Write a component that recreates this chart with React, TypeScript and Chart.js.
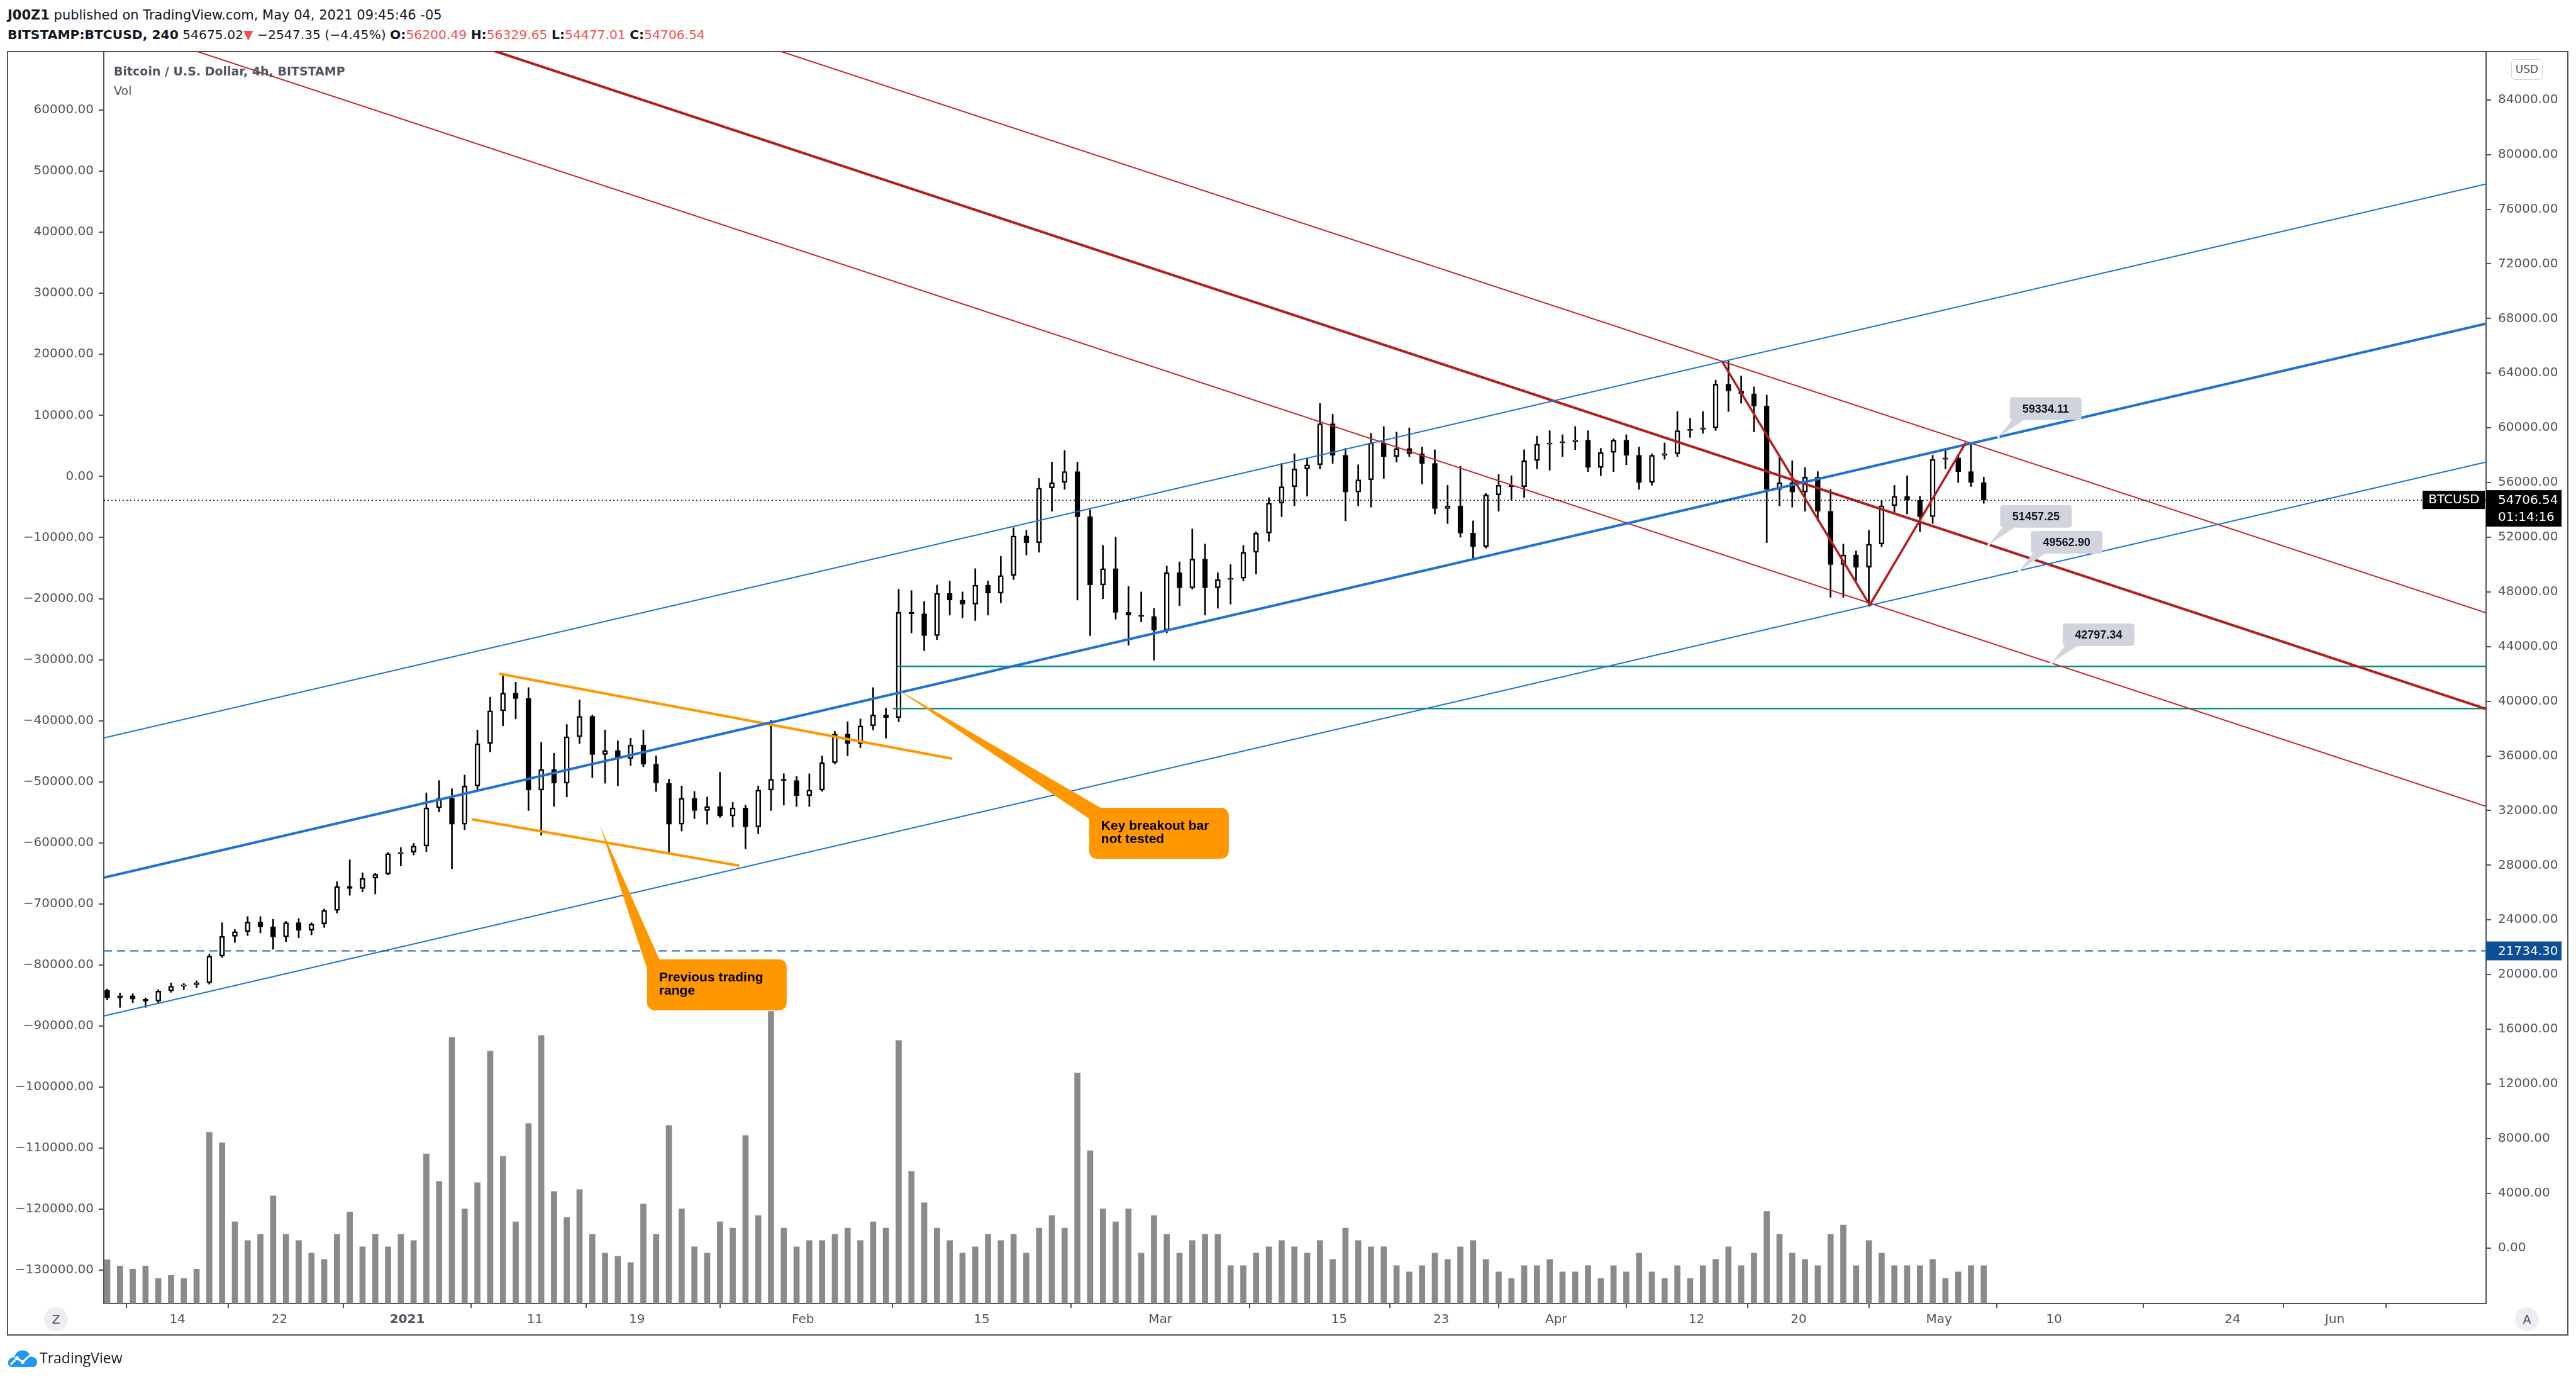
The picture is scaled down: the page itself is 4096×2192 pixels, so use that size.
import React, { useEffect, useRef } from 'react';
import { Chart, registerables } from 'chart.js';

Chart.register(...registerables);

// ---------- DATA (daily sessions, UTC-5) ----------
const dates = [
  '2020-12-08','2020-12-09','2020-12-10','2020-12-11','2020-12-12','2020-12-13','2020-12-14','2020-12-15','2020-12-16','2020-12-17','2020-12-18','2020-12-19','2020-12-20','2020-12-21','2020-12-22','2020-12-23','2020-12-24','2020-12-25','2020-12-26','2020-12-27','2020-12-28','2020-12-29','2020-12-30','2020-12-31',
  '2021-01-01','2021-01-02','2021-01-03','2021-01-04','2021-01-05','2021-01-06','2021-01-07','2021-01-08','2021-01-09','2021-01-10','2021-01-11','2021-01-12','2021-01-13','2021-01-14','2021-01-15','2021-01-16','2021-01-17','2021-01-18','2021-01-19','2021-01-20','2021-01-21','2021-01-22','2021-01-23','2021-01-24','2021-01-25','2021-01-26','2021-01-27','2021-01-28','2021-01-29','2021-01-30','2021-01-31',
  '2021-02-01','2021-02-02','2021-02-03','2021-02-04','2021-02-05','2021-02-06','2021-02-07','2021-02-08','2021-02-09','2021-02-10','2021-02-11','2021-02-12','2021-02-13','2021-02-14','2021-02-15','2021-02-16','2021-02-17','2021-02-18','2021-02-19','2021-02-20','2021-02-21','2021-02-22','2021-02-23','2021-02-24','2021-02-25','2021-02-26','2021-02-27','2021-02-28',
  '2021-03-01','2021-03-02','2021-03-03','2021-03-04','2021-03-05','2021-03-06','2021-03-07','2021-03-08','2021-03-09','2021-03-10','2021-03-11','2021-03-12','2021-03-13','2021-03-14','2021-03-15','2021-03-16','2021-03-17','2021-03-18','2021-03-19','2021-03-20','2021-03-21','2021-03-22','2021-03-23','2021-03-24','2021-03-25','2021-03-26','2021-03-27','2021-03-28','2021-03-29','2021-03-30','2021-03-31',
  '2021-04-01','2021-04-02','2021-04-03','2021-04-04','2021-04-05','2021-04-06','2021-04-07','2021-04-08','2021-04-09','2021-04-10','2021-04-11','2021-04-12','2021-04-13','2021-04-14','2021-04-15','2021-04-16','2021-04-17','2021-04-18','2021-04-19','2021-04-20','2021-04-21','2021-04-22','2021-04-23','2021-04-24','2021-04-25','2021-04-26','2021-04-27','2021-04-28','2021-04-29','2021-04-30',
  '2021-05-01','2021-05-02','2021-05-03','2021-05-04',
];

const opens = [
  18850,18300,18450,18200,18050,18800,19150,19250,19400,21350,22800,23150,23850,23500,22750,23800,23250,23700,24700,26450,26300,27050,27350,28850,
  28950,29400,32200,32900,31000,33800,36900,39300,40600,40200,33500,35000,34000,37400,38900,36100,36400,35800,36800,35400,34000,31000,32900,32000,32300,31600,32200,30800,33500,34300,34200,
  33100,33500,35500,37600,36900,38200,39000,38800,46500,46400,44800,47900,47400,47100,48500,47900,49200,52100,51600,55600,56000,56800,53500,48500,49700,46500,46300,46200,
  45200,49400,48300,50400,48300,48900,49000,50900,52300,54500,55700,57000,57300,60300,58000,55300,56200,58900,57900,58500,58100,57400,54100,54300,52300,51300,55100,55800,55700,57600,58800,
  58900,59000,59100,57100,58200,59100,58000,56000,58000,58100,59800,59900,60000,63200,62700,62500,61600,55500,56000,55300,56400,53900,50000,50700,49800,51500,54300,55000,54700,53500,
  57700,57800,56800,56000,
];
const highs = [
  18950,18650,18600,18300,18900,19400,19350,19550,21500,23800,23300,24250,24250,24050,23900,24100,23800,24800,26800,28400,27450,27400,28950,29300,
  29600,33300,34200,33600,34600,37900,40300,42000,41400,41000,37000,36200,38300,40100,39000,37900,37100,37300,37900,36000,34300,33800,33400,33000,34800,32600,32400,33800,38600,34700,34500,
  34700,36000,37800,38500,38700,41000,39500,48200,48100,47300,48500,48800,48000,49700,48800,50600,52700,52500,56300,57500,58350,57500,54000,51400,52000,48400,48000,46800,
  49900,50200,52600,51500,49400,50000,51400,52400,54900,57400,58100,57800,61800,61000,58500,57300,59600,60100,59700,60000,58600,58400,55800,57200,53200,55200,56600,56500,58400,59400,59800,
  59500,60100,59800,58500,59200,59500,58600,58100,58900,61200,60700,61200,63500,64900,63800,63000,62400,57800,57600,57100,56800,55500,51500,51000,52500,54700,55800,56500,55000,58000,
  58500,58000,58900,56400,
];
const lows = [
  18150,17600,17950,17600,17950,18700,18900,19050,19300,21250,22350,22850,23050,21850,22400,22700,22900,23450,24500,25800,26050,25900,27300,27950,
  28750,29000,31900,27750,30600,33500,36300,38200,38700,32000,30200,32300,33000,36900,34400,34000,33800,35300,35200,33400,28900,30500,31400,31000,31500,30800,29200,30300,32000,32400,32300,
  32300,33400,35400,36000,36600,37900,37300,38500,45000,43700,44500,46300,46100,45900,46300,47200,48900,50700,50900,53900,55500,47400,44800,47500,46000,44100,45800,43000,
  45000,47000,48200,46300,46800,47100,48800,49300,51700,53500,54300,55000,57000,57400,53200,54300,54200,56300,57500,57900,55900,53700,53000,52000,50400,51200,53900,54700,54900,57000,56900,
  57900,58400,56800,56500,56800,57300,55500,55800,57700,57900,59300,59600,59800,61200,61800,59700,51600,54300,54200,53900,53200,47600,47600,48800,47000,51300,53700,53700,52400,53000,
  57000,56000,55700,54477.01,
];
const closes = [
  18300,18450,18200,18050,18800,19150,19250,19400,21350,22800,23150,23850,23500,22750,23800,23250,23700,24700,26450,26300,27050,27350,28850,28950,
  29400,32200,32900,31000,33800,36900,39300,40600,40200,33500,35000,34000,37400,38900,36100,36400,35800,36800,35400,34000,31000,32900,32000,32300,31600,32200,30800,33500,34300,34200,33100,
  33500,35500,37600,36900,38200,39000,38800,46500,46400,44800,47900,47400,47100,48500,47900,49200,52100,51600,55600,56000,56800,53500,48500,49700,46500,46300,46200,45200,
  49400,48300,50400,48300,48900,49000,50900,52300,54500,55700,57000,57300,60300,58000,55300,56200,58900,57900,58500,58100,57400,54100,54300,52300,51300,55100,55800,55700,57600,58800,58900,
  59000,59100,57100,58200,59100,58000,56000,58000,58100,59800,59900,60000,63200,62700,62500,61600,55500,56000,55300,56400,53900,50000,50700,49800,51500,54300,55000,54700,53500,57700,
  57800,56800,56000,54706.54,
];
// peak 4h volume of each session (BTC)
const volumes = [
  1400,1200,1100,1200,800,900,800,1100,5470,5130,2610,2010,2210,3440,2210,2010,1610,1410,2210,2920,1810,2210,1810,2210,
  2010,4780,3900,8500,3020,3860,8060,4700,2610,5750,8560,3580,2750,3640,2210,1610,1510,1310,3180,2210,5690,3020,1810,1610,2610,2410,5370,2810,9330,2410,1810,
  2010,2010,2210,2410,2010,2610,2410,8400,4220,3220,2410,2010,1610,1810,2210,2010,2210,1610,2410,2810,2410,7360,4880,3020,2610,3020,1610,2810,
  2210,1610,2010,2210,2210,1210,1210,1610,1810,2010,1810,1610,2010,1410,2410,2010,1810,1810,1210,1010,1210,1610,1410,1810,2010,1410,1010,800,1210,1210,1410,
  1010,1010,1210,800,1210,1010,1610,1010,800,1210,800,1210,1410,1810,1210,1610,2940,2210,1610,1410,1210,2210,2510,1210,2010,1610,1210,1210,1210,1410,
  800,1010,1210,1210,
];

// visible window, days since 2021-01-01
const viewDays = [-23.77, 162.85];
const priceRange = [-4064, 87576];
const leftRange = [-135440, 69684];
const volumeMax = 40000;

const priceTicks = [0,4000,8000,12000,16000,20000,24000,28000,32000,36000,40000,44000,48000,52000,56000,60000,64000,68000,72000,76000,80000,84000];
const leftTicks = [60000,50000,40000,30000,20000,10000,0,-10000,-20000,-30000,-40000,-50000,-60000,-70000,-80000,-90000,-100000,-110000,-120000,-130000];
const timeTickDays = [-18,-10,0,10,18,31,45,59,73,81,90,101,109,120,129,143,151];
const timeTickLabels = ['14','22','2021','11','19','Feb','15','Mar','15','23','Apr','12','20','May','10','24','Jun'];

// drawings: [day1, price1, day2, price2]
const blueMid = [-23.77, 27096, 162.85, 67629];
const blueTop = [-23.77, 37314, 162.85, 77847];
const blueBottom = [-23.77, 16968, 162.85, 57501];
const redMid = [-23.77, 97013, 162.85, 39441];
const redTop = [-23.77, 103852, 162.85, 46466];
const redBottom = [-23.77, 89789, 162.85, 32310];
const rangeTop = [7.18, 42020, 42.7, 35796];
const rangeBottom = [5.05, 31363, 26.02, 27970];
const zigzagDays = [103.0, 114.57, 122.1];
const zigzagPrices = [64870, 47039, 58933];
const breakoutLevels = [42550, 39470];
const breakoutStartDays = [38.4, 38.05];
const supportLevel = 21734.30;
const lastPrice = 54706.54;
const countdown = '01:14:16';
const noteDays = [124.66, 123.9, 126.3, 128.8];
const noteValues = [59334.11, 51457.25, 49562.90, 42797.34];
const calloutTexts = [['Key breakout bar', 'not tested'], ['Previous trading', 'range']];
const calloutTipDays = [38.3, 15.1];
const calloutTipPrices = [40930, 30880];
const calloutBoxDays = [53.42, 18.79];
const calloutBoxPrices = [32206, 21113];

// ---------- STYLE ----------
const AXIS_FONT = '"DejaVu Sans", sans-serif';
const ARIAL = '"Liberation Sans", Arial, sans-serif';
const AXIS_COLOR = '#50535e';
const TEXT_COLOR = '#50535e';
const BLUE = '#1f72d4';
const RED = '#b71c1c';
const RED_THIN = '#c62828';
const ORANGE = '#ff9800';
const GREEN = '#0b8f7e';

const DAY0 = Date.UTC(2021, 0, 1);
const dayOf = (s: string) => (Date.parse(s + 'T00:00:00Z') - DAY0) / 86400000;

function rr(ctx: CanvasRenderingContext2D, x: number, y: number, w: number, h: number, r: number) {
  ctx.beginPath();
  ctx.moveTo(x + r, y);
  ctx.arcTo(x + w, y, x + w, y + h, r);
  ctx.arcTo(x + w, y + h, x, y + h, r);
  ctx.arcTo(x, y + h, x, y, r);
  ctx.arcTo(x, y, x + w, y, r);
  ctx.closePath();
}

const overlayPlugin = {
  id: 'tvOverlay',
  afterDatasetsDraw(chart: any) {
    const { ctx, chartArea } = chart;
    const xs = chart.scales.x;
    const ys = chart.scales.y;
    ctx.save();
    ctx.beginPath();
    ctx.rect(chartArea.left, chartArea.top, chartArea.right - chartArea.left, chartArea.bottom - chartArea.top);
    ctx.clip();
    calloutTexts.forEach((lines, i) => {
      const tx = xs.getPixelForValue(calloutTipDays[i]);
      const ty = ys.getPixelForValue(calloutTipPrices[i]);
      const bx = xs.getPixelForValue(calloutBoxDays[i]);
      const by = ys.getPixelForValue(calloutBoxPrices[i]);
      const w = 222, h = 81;
      ctx.fillStyle = ORANGE;
      ctx.beginPath();
      ctx.moveTo(tx, ty);
      ctx.lineTo(bx + 1, by + 18);
      ctx.lineTo(bx + 20, by + 1);
      ctx.closePath();
      ctx.fill();
      rr(ctx, bx, by, w, h, 12);
      ctx.fill();
      ctx.fillStyle = '#000';
      ctx.font = `bold 21px ${ARIAL}`;
      ctx.textAlign = 'left';
      ctx.textBaseline = 'middle';
      ctx.fillText(lines[0], bx + 19, by + 29);
      ctx.fillText(lines[1], bx + 19, by + 50);
    });
    noteDays.forEach((d, i) => {
      const ax = xs.getPixelForValue(d);
      const ay = ys.getPixelForValue(noteValues[i]);
      const left = ax + 18, bottom = ay - 27, w = 114, h = 36;
      ctx.fillStyle = '#d1d4dc';
      ctx.beginPath();
      ctx.moveTo(ax, ay);
      ctx.lineTo(left + 4, bottom - 1);
      ctx.lineTo(left + 24, bottom - 1);
      ctx.closePath();
      ctx.fill();
      rr(ctx, left, bottom - h, w, h, 5);
      ctx.fill();
      ctx.fillStyle = '#131722';
      ctx.font = `bold 18px ${ARIAL}`;
      ctx.textAlign = 'center';
      ctx.textBaseline = 'middle';
      ctx.fillText(noteValues[i].toFixed(2), left + w / 2, bottom - h / 2 + 1);
      ctx.fillStyle = '#ffffff';
      ctx.beginPath();
      ctx.arc(ax, ay, 2, 0, Math.PI * 2);
      ctx.fill();
    });
    ctx.restore();
  },
  afterDraw(chart: any) {
    const { ctx, chartArea } = chart;
    const ys = chart.scales.y;
    ctx.save();
    const R = chartArea.right;
    const py = ys.getPixelForValue(lastPrice);
    ctx.fillStyle = '#000';
    ctx.fillRect(R, py - 16, 120, 58);
    ctx.fillRect(R - 101, py - 15, 99, 29);
    ctx.fillStyle = '#fff';
    ctx.font = `20px ${AXIS_FONT}`;
    ctx.textBaseline = 'middle';
    ctx.textAlign = 'left';
    ctx.fillText(lastPrice.toFixed(2), R + 19, py + 1);
    ctx.fillText(countdown, R + 19, py + 28);
    ctx.textAlign = 'center';
    ctx.fillText('BTCUSD', R - 51, py);
    const sy = ys.getPixelForValue(supportLevel);
    ctx.fillStyle = '#0d4f95';
    ctx.fillRect(R, sy - 15, 120, 30);
    ctx.fillStyle = '#fff';
    ctx.textAlign = 'left';
    ctx.fillText(supportLevel.toFixed(2), R + 19, sy + 1);
    ctx.restore();
  },
};

const fmt = (v: number) => (v < 0 ? '\u2212' + Math.abs(v).toFixed(2) : v.toFixed(2));
const noPad = (s: any) => {
  s.paddingTop = 0;
  s.paddingBottom = 0;
  s.paddingLeft = 0;
  s.paddingRight = 0;
};

export default function App() {
  const ref = useRef<HTMLCanvasElement>(null);

  useEffect(() => {
    const cv = ref.current;
    if (!cv) return;
    const xs = dates.map((d) => dayOf(d) + 0.5);
    const seg = (p: number[], color: string, width: number, extra: any = {}) => ({
      type: 'line',
      data: [{ x: p[0], y: p[1] }, { x: p[2], y: p[3] }],
      borderColor: color,
      borderWidth: width,
      pointRadius: 0,
      fill: false,
      tension: 0,
      yAxisID: 'y',
      order: 20,
      ...extra,
    });
    const datasets: any[] = [
      {
        type: 'bar',
        data: xs.map((x, i) => ({ x, y: volumes[i] })),
        yAxisID: 'yv',
        backgroundColor: '#8a8a8a',
        barThickness: 9,
        grouped: false,
        order: 100,
      },
      {
        type: 'bar',
        data: xs.map((x, i) => ({ x, y: [lows[i], highs[i]] })),
        yAxisID: 'y',
        backgroundColor: '#000',
        barThickness: 2,
        grouped: false,
        order: 90,
      },
      {
        type: 'bar',
        data: xs.map((x, i) => ({ x, y: [opens[i], closes[i]] })),
        yAxisID: 'y',
        backgroundColor: closes.map((c, i) => (c >= opens[i] ? '#ffffff' : '#000000')),
        borderColor: '#000',
        borderWidth: 2.5,
        borderSkipped: false,
        minBarLength: 2,
        barThickness: 8,
        grouped: false,
        order: 80,
      },
      seg([viewDays[0], supportLevel, viewDays[1], supportLevel], '#2161b0', 2, { borderDash: [13, 8] }),
      seg([viewDays[0], lastPrice, viewDays[1], lastPrice], '#131722', 1.5, { borderDash: [2, 4] }),
      seg(blueTop, BLUE, 2),
      seg(blueMid, BLUE, 4),
      seg(blueBottom, BLUE, 2),
      seg(redTop, RED_THIN, 2),
      seg(redMid, RED, 4),
      seg(redBottom, RED_THIN, 2),
      seg([breakoutStartDays[0], breakoutLevels[0], viewDays[1], breakoutLevels[0]], GREEN, 2.5),
      seg([breakoutStartDays[1], breakoutLevels[1], viewDays[1], breakoutLevels[1]], GREEN, 2.5),
      seg(rangeTop, ORANGE, 4),
      seg(rangeBottom, ORANGE, 4),
      {
        type: 'line',
        data: zigzagDays.map((d, i) => ({ x: d, y: zigzagPrices[i] })),
        borderColor: RED,
        borderWidth: 3.5,
        pointRadius: 0,
        fill: false,
        tension: 0,
        yAxisID: 'y',
        order: 15,
      },
    ];

    const axisFont = { family: AXIS_FONT, size: 20 };
    const chart = new Chart(cv, {
      type: 'bar',
      data: { datasets },
      options: {
        responsive: false,
        animation: false,
        devicePixelRatio: 1,
        events: [],
        layout: { padding: 0 },
        plugins: { legend: { display: false }, tooltip: { enabled: false } },
        scales: {
          x: {
            type: 'linear',
            position: 'bottom',
            min: viewDays[0],
            max: viewDays[1],
            offset: false,
            grid: { display: true, drawOnChartArea: false, drawTicks: true, tickLength: 7, color: AXIS_COLOR, lineWidth: 2 },
            border: { display: true, color: AXIS_COLOR, width: 2 },
            ticks: {
              autoSkip: false,
              maxRotation: 0,
              padding: 7,
              color: TEXT_COLOR,
              font: (c: any) => ({ ...axisFont, weight: timeTickLabels[c.index] === '2021' ? 'bold' : 'normal' }),
              callback: (_v: any, i: number) => timeTickLabels[i],
            },
            afterBuildTicks: (s: any) => {
              s.ticks = timeTickDays.map((v) => ({ value: v }));
            },
            afterFit: (s: any) => {
              s.height = 51;
              noPad(s);
            },
          },
          y: {
            type: 'linear',
            position: 'right',
            min: priceRange[0],
            max: priceRange[1],
            grid: { display: true, drawOnChartArea: false, drawTicks: true, tickLength: 8, color: AXIS_COLOR, lineWidth: 2 },
            border: { display: true, color: AXIS_COLOR, width: 2 },
            ticks: { padding: 11, color: TEXT_COLOR, font: axisFont, callback: (v: any) => fmt(Number(v)) },
            afterBuildTicks: (s: any) => {
              s.ticks = priceTicks.map((v) => ({ value: v }));
            },
            afterFit: (s: any) => {
              s.width = 131;
              noPad(s);
            },
          },
          yl: {
            type: 'linear',
            position: 'left',
            min: leftRange[0],
            max: leftRange[1],
            grid: { display: true, drawOnChartArea: false, drawTicks: true, tickLength: 8, color: AXIS_COLOR, lineWidth: 2 },
            border: { display: true, color: AXIS_COLOR, width: 2 },
            ticks: { padding: 8, color: TEXT_COLOR, font: axisFont, callback: (v: any) => fmt(Number(v)) },
            afterBuildTicks: (s: any) => {
              s.ticks = leftTicks.map((v) => ({ value: v }));
            },
            afterFit: (s: any) => {
              s.width = 154;
              noPad(s);
            },
          },
          yv: { type: 'linear', display: false, min: 0, max: volumeMax },
        },
      } as any,
      plugins: [overlayPlugin as any],
    } as any);
    return () => chart.destroy();
  }, []);

  const red = { color: '#ef5350' };
  return (
    <div style={{ position: 'fixed', left: 0, top: 0, width: 4096, height: 2192, background: '#fff', fontFamily: AXIS_FONT, color: '#131722', overflow: 'hidden' }}>
      <div style={{ position: 'absolute', left: 12, top: 11, fontSize: 21, lineHeight: '26px', whiteSpace: 'nowrap' }}>
        <b>J00Z1</b> published on TradingView.com, May 04, 2021 09:45:46 -05
      </div>
      <div style={{ position: 'absolute', left: 12, top: 42, fontSize: 20.3, lineHeight: '26px', whiteSpace: 'nowrap' }}>
        <b>BITSTAMP:BTCUSD, 240</b> 54675.02<span style={red}>▼</span> −2547.35 (−4.45%) <b>O:</b><span style={red}>56200.49</span>{' '}
        <b>H:</b><span style={red}>56329.65</span> <b>L:</b><span style={red}>54477.01</span> <b>C:</b><span style={red}>54706.54</span>
      </div>
      <div style={{ position: 'absolute', left: 11, top: 81, width: 4073, height: 2042, boxSizing: 'border-box', border: `2px solid ${AXIS_COLOR}` }} />
      <canvas ref={ref} width={4073} height={2042} style={{ position: 'absolute', left: 11, top: 81, width: 4073, height: 2042 }} />
      <div style={{ position: 'absolute', left: 181, top: 101, fontSize: 19, fontWeight: 'bold', lineHeight: '24px', color: TEXT_COLOR, whiteSpace: 'nowrap' }}>
        Bitcoin / U.S. Dollar, 4h, BITSTAMP
      </div>
      <div style={{ position: 'absolute', left: 181, top: 132, fontSize: 19, lineHeight: '24px', color: TEXT_COLOR }}>Vol</div>
      <div style={{ position: 'absolute', left: 3993, top: 94, width: 50, height: 33, boxSizing: 'border-box', border: '1px solid #d1d4dc', borderRadius: 6, fontSize: 17, lineHeight: '31px', textAlign: 'center', color: TEXT_COLOR }}>USD</div>
      <div style={{ position: 'absolute', left: 70, top: 2078, width: 38, height: 38, borderRadius: 19, background: '#eceef3', fontSize: 19, lineHeight: '38px', textAlign: 'center', color: TEXT_COLOR }}>Z</div>
      <div style={{ position: 'absolute', left: 3999, top: 2078, width: 38, height: 38, borderRadius: 19, background: '#eceef3', fontSize: 19, lineHeight: '38px', textAlign: 'center', color: TEXT_COLOR }}>A</div>
      <svg style={{ position: 'absolute', left: 11, top: 2142 }} width={50} height={32} viewBox="0 0 50 32">
        <path d="M9 31 C2 31 0 24 3 20 C5 16 9 15 12 16 C13 8 20 3 28 5 C34 6 37 11 38 15 C44 14 49 19 48 25 C47 29 44 31 40 31 Z" fill="#2196f3" />
        <polyline points="6,27 16,17 25,23 37,12" stroke="#fff" strokeWidth={3} fill="none" strokeLinejoin="round" />
        <circle cx={16} cy={17} r={3} fill="#fff" />
        <circle cx={25} cy={23} r={3} fill="#fff" />
      </svg>
      <div style={{ position: 'absolute', left: 63, top: 2142, fontSize: 23, lineHeight: '32px', fontFamily: '"Open Sans", sans-serif', color: '#131722' }}>TradingView</div>
    </div>
  );
}
